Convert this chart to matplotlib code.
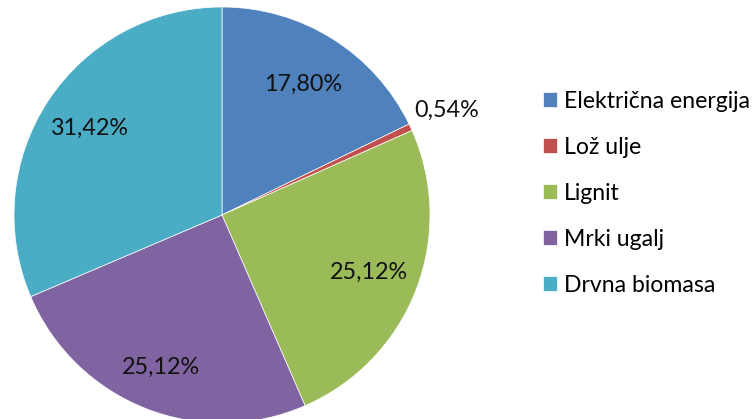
import matplotlib
matplotlib.use("Agg")
import matplotlib.pyplot as plt
import numpy as np

categories = ["Električna energija", "Lož ulje", "Lignit", "Mrki ugalj", "Drvna biomasa"]
values = [17.80, 0.54, 25.12, 25.12, 31.42]
value_labels = ["17,80%", "0,54%", "25,12%", "25,12%", "31,42%"]
colors = ["#4F81BD", "#C0504D", "#9BBB59", "#8064A2", "#4BACC6"]
label_dist = [0.74, 1.19, 0.76, 0.79, 0.76]

plt.rcParams['font.family'] = ['Lato', 'DejaVu Sans']

W, H = 754, 419
fig = plt.figure(figsize=(W / 100, H / 100), dpi=100)
cx, cy, r = 222, 215, 208
ax = fig.add_axes([(cx - r) / W, (H - cy - r) / H, 2 * r / W, 2 * r / H])
wedges, _ = ax.pie(values, colors=colors, startangle=90, counterclock=False,
                   radius=1, wedgeprops=dict(linewidth=0.5, edgecolor='white'))
ax.set_xlim(-1, 1)
ax.set_ylim(-1, 1)
ax.set_aspect('equal')
ax.axis('off')

for w, lab, d in zip(wedges, value_labels, label_dist):
    ang = np.deg2rad((w.theta1 + w.theta2) / 2)
    ax.text(d * np.cos(ang), d * np.sin(ang), lab, ha='center', va='center',
            fontsize=16.8, color='#111111', clip_on=False)

leg = fig.legend(wedges, categories, loc='upper left',
                 bbox_to_anchor=(543 / W, 1 - 91 / H), frameon=False,
                 fontsize=16.6, handlelength=0.62, handleheight=0.62,
                 handletextpad=0.3, labelspacing=1.08, borderpad=0, borderaxespad=0)

fig.savefig("out.png", dpi=100, facecolor='white')
